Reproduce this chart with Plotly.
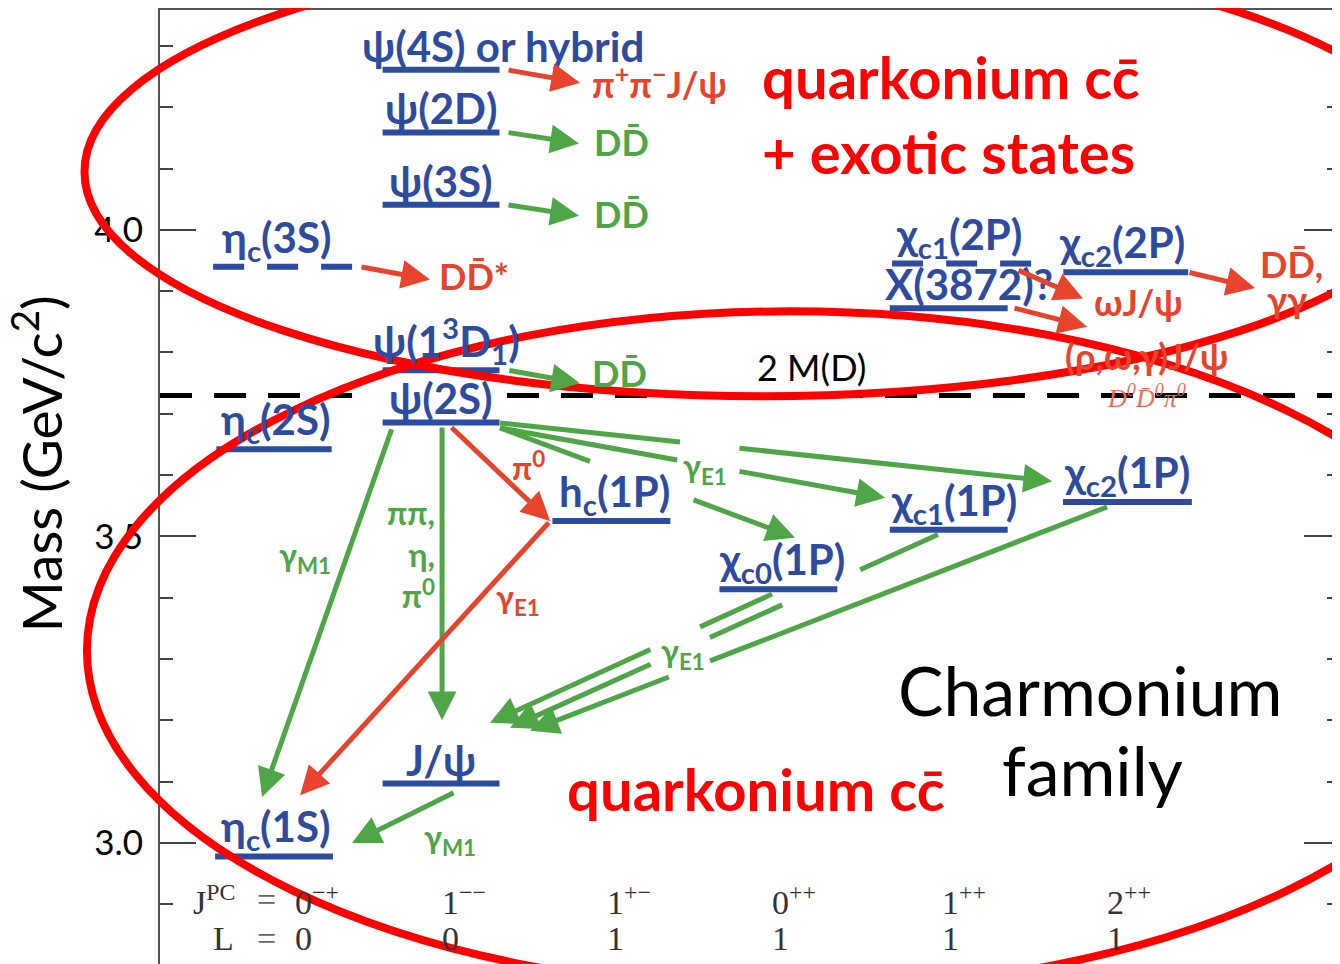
import plotly.graph_objects as go

# ---------------- data ----------------
x_range = [-0.683, 6.383]          # columns (J^PC) units
y_range = [2.8026, 4.3586]         # mass, GeV/c^2

state_label = ["η<sub>c</sub>(1S)", "J/ψ", "η<sub>c</sub>(2S)", "ψ(2S)",
               "ψ(1<sup>3</sup>D<sub>1</sub>)", "h<sub>c</sub>(1P)", "χ<sub>c0</sub>(1P)",
               "χ<sub>c1</sub>(1P)", "χ<sub>c2</sub>(1P)", "η<sub>c</sub>(3S)", "X(3872)?",
               "χ<sub>c1</sub>(2P)", "χ<sub>c2</sub>(2P)", "ψ(3S)", "ψ(2D)", "ψ(4S) or hybrid"]
state_mass = [2.978, 3.097, 3.642, 3.686, 3.771, 3.525, 3.414, 3.511, 3.556,
              3.940, 3.872, 3.945, 3.931, 4.041, 4.159, 4.261]
state_x = [0.0, 1.0, 0.0, 1.0, 1.0, 2.02, 3.02, 4.04, 5.11, 0.054, 4.04, 4.12, 5.10, 1.0, 1.0, 1.0]
state_hw = [0.353, 0.35, 0.345, 0.35, 0.35, 0.353, 0.353, 0.353, 0.386, 0.419, 0.353,
            0.419, 0.374, 0.35, 0.35, 0.35]
state_dashed = [False, False, False, False, False, False, False, False, False,
                True, False, True, False, False, False, False]
state_label_x = [0.01, 1.0, 0.01, 1.0, 1.03, 2.04, 3.04, 4.07, 5.11, 0.018, 4.16,
                 4.10, 5.08, 1.0, 1.0, 1.37]

threshold_mass = 3.730
threshold_gap = [0.467, 1.395]
threshold_label = "2 M(D)"
threshold_label_pos = [3.216, 3.777]

# transitions: tail, tip, colour key, gaps (fractions along the line)
arrow_from = [(1.395, 4.261), (1.395, 4.159), (1.395, 4.041), (0.515, 3.940), (1.40, 3.771),
              (4.449, 3.935), (4.425, 3.873), (5.473, 3.931),
              (0.707, 3.677), (1.006, 3.680), (1.054, 3.680), (1.653, 3.525),
              (1.353, 3.677), (1.353, 3.677), (1.353, 3.685),
              (2.982, 3.406), (3.976, 3.503), (4.988, 3.548), (1.084, 3.083)]
arrow_to = [(1.832, 4.240), (1.826, 4.141), (1.826, 4.023), (0.934, 3.919), (1.832, 3.750),
            (4.844, 3.888), (4.868, 3.842), (5.874, 3.905),
            (-0.072, 3.075), (1.006, 3.200), (1.653, 3.525), (0.156, 3.078),
            (3.120, 3.498), (3.659, 3.563), (4.659, 3.590),
            (1.293, 3.196), (1.413, 3.188), (1.533, 3.183), (0.467, 3.000)]
arrow_color = ["r", "g", "g", "r", "g", "r", "r", "r",
               "g", "g", "r", "r", "g", "g", "g", "g", "g", "g", "g"]
arrow_gaps = [[], [], [], [], [], [], [], [],
              [], [], [], [],
              [(0.305, 0.651)], [(0.46, 0.618)], [(0.326, 0.431)],
              [(0.255, 0.426)], [(0.182, 0.364), (0.533, 0.668)], [(0.688, 0.757)], []]

# transition labels (centred)
tr_label = ["γ<sub>M1</sub>", "ππ,<br>η,<br>π<sup>0</sup>", "π<sup>0</sup>", "γ<sub>E1</sub>",
            "γ<sub>E1</sub>", "γ<sub>E1</sub>", "γ<sub>M1</sub>"]
tr_pos = [(0.186, 3.466), (0.976, 3.471), (1.521, 3.615), (1.461, 3.398),
          (2.581, 3.611), (2.449, 3.310), (1.054, 3.007)]
tr_color = ["g", "g", "r", "r", "g", "g", "g"]
tr_anchor = ["center", "right", "center", "center", "center", "center", "center"]

# final-state labels (left-anchored)
fs_label = ["π<sup>+</sup>π<sup>−</sup>J/ψ", "DD̄", "DD̄", "DD̄*", "DD̄", "ωJ/ψ",
            "(ρ,ω,γ)J/ψ", "DD̄,", "γγ"]
fs_pos = [(1.892, 4.241), (1.904, 4.144), (1.904, 4.026), (0.976, 3.924), (1.892, 3.766),
          (4.898, 3.883), (4.725, 3.794), (5.892, 3.945), (5.934, 3.888)]
fs_color = ["r", "g", "g", "r", "g", "r", "r", "r", "r"]

# quantum numbers row
jpc_label = ["0<sup>−+</sup>", "1<sup>−−</sup>", "1<sup>+−</sup>", "0<sup>++</sup>",
             "1<sup>++</sup>", "2<sup>++</sup>"]
l_label = ["0", "0", "1", "1", "1", "1"]
col_left = [0.114, 0.994, 1.982, 2.970, 3.988, 4.976]
jpc_row_mass = [2.907, 2.845]

# ---------------- style ----------------
FONT = "Lato"
SERIF = "Liberation Serif"
BLUE = "#2E4C9F"
GREEN = "#4EA647"
RED = "#E8432C"
PURE_RED = "#FF0000"
COL = {"g": GREEN, "r": RED}

fig = go.Figure()
fig.add_trace(go.Scatter(x=[x_range[0]], y=[y_range[0]], mode="markers",
                         marker=dict(opacity=0), hoverinfo="skip", showlegend=False))

shapes = []
annotations = []

# energy levels
for lab, m, xc, hw, dsh, lx in zip(state_label, state_mass, state_x, state_hw,
                                   state_dashed, state_label_x):
    shapes.append(dict(type="line", xref="x", yref="y", x0=xc - hw, x1=xc + hw, y0=m, y1=m,
                       line=dict(color=BLUE, width=6, dash="31px,23px" if dsh else "solid")))
    annotations.append(dict(x=lx, y=m, xref="x", yref="y", text=lab, showarrow=False,
                            xanchor="center", yanchor="bottom", yshift=-3,
                            font=dict(family=FONT, size=42, color=BLUE, weight="bold")))

# 2 M(D) threshold
shapes.append(dict(type="line", xref="x", yref="y", x0=x_range[0], x1=threshold_gap[0],
                   y0=threshold_mass, y1=threshold_mass,
                   line=dict(color="black", width=5, dash="32px,22px")))
shapes.append(dict(type="line", xref="x", yref="y", x0=threshold_gap[1], x1=x_range[1],
                   y0=threshold_mass, y1=threshold_mass,
                   line=dict(color="black", width=5, dash="32px,22px")))
annotations.append(dict(x=threshold_label_pos[0], y=threshold_label_pos[1], xref="x", yref="y",
                        text=threshold_label, showarrow=False,
                        font=dict(family=FONT, size=36, color="black")))

# transitions
for (x0, y0), (x1, y1), c, gaps in zip(arrow_from, arrow_to, arrow_color, arrow_gaps):
    col = COL[c]
    pts = [0.0]
    for g0, g1 in gaps:
        pts += [g0, g1]
    pts.append(1.0)
    segs = [(pts[i], pts[i + 1]) for i in range(0, len(pts), 2)]
    for t0, t1 in segs[:-1]:
        shapes.append(dict(type="line", xref="x", yref="y",
                           x0=x0 + (x1 - x0) * t0, y0=y0 + (y1 - y0) * t0,
                           x1=x0 + (x1 - x0) * t1, y1=y0 + (y1 - y0) * t1,
                           line=dict(color=col, width=5)))
    t0 = segs[-1][0]
    annotations.append(dict(x=x1, y=y1, xref="x", yref="y", text="", showarrow=True,
                            ax=x0 + (x1 - x0) * t0, ay=y0 + (y1 - y0) * t0,
                            axref="x", ayref="y", arrowhead=2, arrowsize=1.15,
                            arrowwidth=5, arrowcolor=col, standoff=0, startstandoff=0))

for lab, (x, y), c, anc in zip(tr_label, tr_pos, tr_color, tr_anchor):
    annotations.append(dict(x=x, y=y, xref="x", yref="y", text=lab, showarrow=False,
                            xanchor=anc, align=anc if anc != "center" else "center",
                            font=dict(family=FONT, size=32, color=COL[c], weight="bold")))

for lab, (x, y), c in zip(fs_label, fs_pos, fs_color):
    annotations.append(dict(x=x, y=y, xref="x", yref="y", text=lab, showarrow=False,
                            xanchor="left",
                            font=dict(family=FONT, size=36, color=COL[c], weight="bold")))

annotations.append(dict(x=4.976, y=3.729, xref="x", yref="y", text="D<sup>0</sup>D̄<sup>0</sup>π<sup>0</sup>",
                        showarrow=False, xanchor="left",
                        font=dict(family=SERIF, size=26, color="#EE6A55", style="italic")))

# quantum numbers
annotations.append(dict(x=-0.50, y=jpc_row_mass[0], xref="x", yref="y",
                        text="J<sup>PC</sup>", showarrow=False, xanchor="left",
                        font=dict(family=SERIF, size=34, color="#333")))
annotations.append(dict(x=-0.38, y=jpc_row_mass[1], xref="x", yref="y",
                        text="L", showarrow=False, xanchor="left",
                        font=dict(family=SERIF, size=34, color="#333")))
for m in jpc_row_mass:
    annotations.append(dict(x=-0.045, y=m, xref="x", yref="y", text="=", showarrow=False,
                            xanchor="center", font=dict(family=SERIF, size=34, color="#666")))
for xl, j, l in zip(col_left, jpc_label, l_label):
    annotations.append(dict(x=xl, y=jpc_row_mass[0], xref="x", yref="y", text=j,
                            showarrow=False, xanchor="left",
                            font=dict(family=SERIF, size=34, color="#333")))
    annotations.append(dict(x=xl, y=jpc_row_mass[1], xref="x", yref="y", text=l,
                            showarrow=False, xanchor="left",
                            font=dict(family=SERIF, size=34, color="#333")))

# big texts
annotations.append(dict(x=2.910, y=4.250, xref="x", yref="y", text="quarkonium cc̄",
                        showarrow=False, xanchor="left",
                        font=dict(family=FONT, size=58, color=PURE_RED, weight="bold")))
annotations.append(dict(x=2.910, y=4.128, xref="x", yref="y", text="+ exotic states",
                        showarrow=False, xanchor="left",
                        font=dict(family=FONT, size=58, color=PURE_RED, weight="bold")))
annotations.append(dict(x=1.743, y=3.089, xref="x", yref="y", text="quarkonium cc̄",
                        showarrow=False, xanchor="left",
                        font=dict(family=FONT, size=58, color=PURE_RED, weight="bold")))
annotations.append(dict(x=4.886, y=3.250, xref="x", yref="y", text="Charmonium",
                        showarrow=False, font=dict(family=FONT, size=68, color="black")))
annotations.append(dict(x=4.898, y=3.120, xref="x", yref="y", text="family",
                        showarrow=False, font=dict(family=FONT, size=68, color="black")))

# axis title
annotations.append(dict(x=-0.1042, y=0.524, xref="paper", yref="paper",
                        xanchor="center", yanchor="middle",
                        text="Mass (GeV/c<sup>2</sup>)", textangle=-90, showarrow=False,
                        font=dict(family=FONT, size=55, color="black")))

# highlight ellipses (paper coordinates, may extend past the axes)
shapes.append(dict(type="circle", xref="paper", yref="paper", x0=-0.0640, x1=1.0847,
                   y0=0.5952, y1=1.0659, line=dict(color=PURE_RED, width=8)))
shapes.append(dict(type="circle", xref="paper", yref="paper", x0=-0.0619, x1=1.1297,
                   y0=-0.0272, y1=0.6841, line=dict(color=PURE_RED, width=8)))

fig.update_layout(
    width=1340, height=964,
    margin=dict(l=152, r=8, t=0, b=8),
    paper_bgcolor="white", plot_bgcolor="white",
    showlegend=False,
    shapes=shapes, annotations=annotations,
    xaxis=dict(range=x_range, showgrid=False, zeroline=False, showticklabels=False,
               ticks="", showline=True, mirror=True, linecolor="#555", linewidth=2),
    yaxis=dict(range=y_range, showgrid=False, zeroline=False,
               tick0=3.0, dtick=0.5, tickformat=".1f",
               ticks="inside", ticklen=36, tickwidth=2, tickcolor="#444",
               minor=dict(ticks="inside", ticklen=13, tickwidth=2, tickcolor="#444",
                          tick0=3.0, dtick=0.1),
               showline=True, mirror="ticks", linecolor="#555", linewidth=2,
               ticklabelstandoff=8,
               tickfont=dict(family=FONT, size=35, color="black")),
)

fig.write_html("out.html")
